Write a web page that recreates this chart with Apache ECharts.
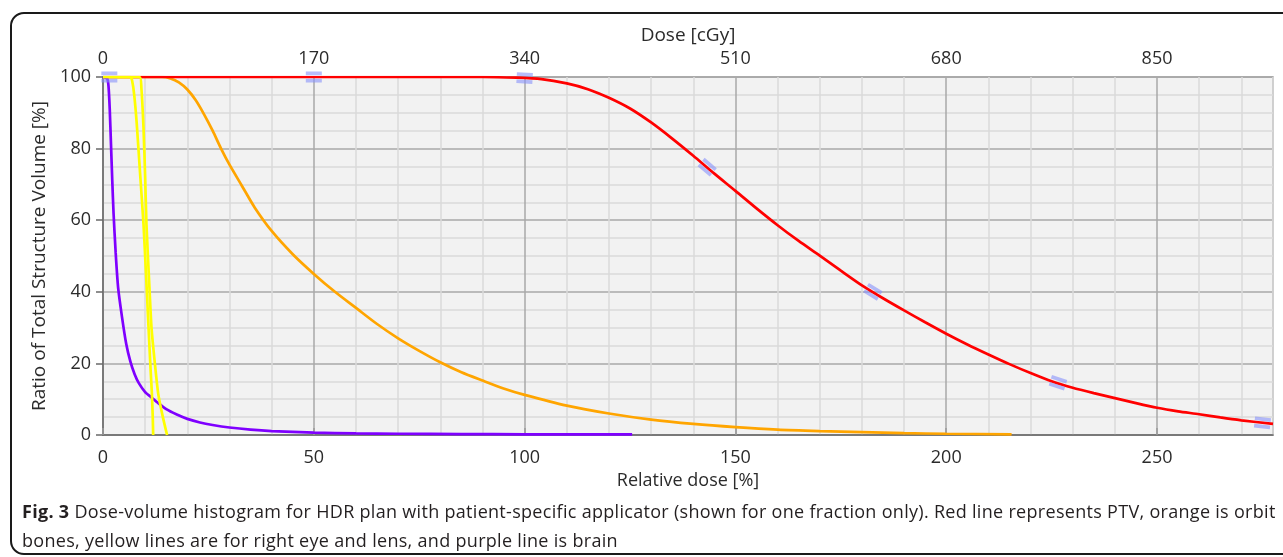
<!DOCTYPE html>
<html>
<head>
<meta charset="utf-8">
<title>DVH</title>
<script src="https://cdn.jsdelivr.net/npm/echarts@6/dist/echarts.min.js"></script>
<style>
html, body { margin: 0; padding: 0; background: #fff; }
#frame {
  position: absolute; left: 10px; top: 12px; width: 1300px; height: 543px;
  border: 2px solid #1a1a1a; border-radius: 14px; box-sizing: border-box;
}
#chart { position: absolute; left: 0; top: 0; width: 1283px; height: 557px; }
#caption {
  position: absolute; left: 22px; top: 497px;
  font-family: 'Open Sans', sans-serif; font-size: 18px; letter-spacing: 0.3px; line-height: 29px;
  color: #231f20; white-space: nowrap;
}
</style>
</head>
<body>
<div id="frame"></div>
<div id="chart"></div>
<div id="caption"><b>Fig. 3</b> Dose-volume histogram for HDR plan with patient-specific applicator (shown for one fraction only). Red line represents PTV, orange is orbit<br>bones, yellow lines are for right eye and lens, and purple line is brain</div>

<script>
// relative dose [%] vs volume [%]
const ptv = [[0,100],[90,100],[98,99.8],[104,99.4],[110,98.2],[115,96.6],[120,94.2],[125,91.2],[130,87.3],[135,82.8],
  [140,78],[145,73],[150,68.2],[155,63.3],[160,58.6],[165,54.2],[170,50.1],[175,45.9],[180,41.8],[185,38.2],[190,34.8],
  [195,31.5],[200,28.3],[205,25.3],[210,22.5],[215,19.8],[220,17.3],[225,15],[230,13.2],[235,11.7],[240,10.3],[245,8.9],
  [250,7.6],[255,6.6],[260,5.8],[265,4.9],[270,4.1],[277.5,3.1]];
const orbit = [[0,100],[14,100],[16,99.6],[18,98.5],[20,96.5],[22,93.5],[24,89.5],[26,85],[28,80],[30,75.5],[33,69.5],
  [36,63.5],[40,57],[45,50.5],[50,45],[55,40],[60,35.5],[65,31],[70,27],[75,23.5],[80,20.3],[85,17.5],[90,15.2],[95,13],
  [100,11.2],[110,8.2],[120,6],[130,4.3],[140,3.1],[150,2.2],[160,1.5],[170,1.1],[180,0.8],[190,0.5],[200,0.35],[215.5,0.2]];
const brain = [[0,100],[1,99.5],[1.3,97.5],[1.6,91],[1.9,81],[2.2,71],[2.5,62],[3,51],[3.6,41],[4.5,33],[5.5,25.5],
  [6.5,20.5],[7.5,17],[8.5,14.5],[10,12],[11.5,10.5],[13,9],[15,7.2],[17.5,5.7],[20,4.5],[23,3.5],[26,2.8],[30,2.1],
  [35,1.5],[40,1.1],[50,0.65],[60,0.45],[70,0.35],[85,0.25],[100,0.2],[125.5,0.2]];
const eye = [[0,100],[6.5,100],[6.9,99],[7.4,95],[8,87],[8.8,73],[9.6,59],[10.2,45],[10.8,30],[11.3,18],[11.6,11.5],[11.8,5],[11.9,0]];
const lens = [[0,100],[8.7,100],[9.1,97],[9.6,86],[10,72],[10.3,59],[10.9,44],[11.5,30],[12.3,20],[13.1,11.5],[14.2,5],[15.2,0]];
// blue handle markers sitting on the PTV curve
const ptvMarks = [[1.5,100],[50,100],[100,99.7],[143.3,74.8],[182.6,40],[226.5,14.6],[275,3.4]];

const relTicks = [0, 50, 100, 150, 200, 250];
const doseMax = 943.5;   // 277.5 % of 340 cGy
const relMax = 277.5;

const font = "'Open Sans', sans-serif";
const textColor = '#2b2b2b';
const majorGrid = '#a9a9a9';
const minorGrid = '#dadada';

const chart = echarts.init(document.getElementById('chart'));

const lineSeries = (name, data, color, z, smooth) => ({
  name, type: 'line', data, xAxisIndex: 0, yAxisIndex: 0,
  showSymbol: false, smooth,
  lineStyle: { color, width: 2.7 }, itemStyle: { color }, z
});

const option = {
  animation: false,
  backgroundColor: 'transparent',
  textStyle: { fontFamily: font },
  grid: {
    left: 103, right: 10, top: 77, bottom: 122,
    show: true, backgroundColor: '#f2f2f2', borderColor: '#9c9c9c', borderWidth: 1.5
  },
  xAxis: [
    {
      type: 'value', position: 'bottom', min: 0, max: relMax, interval: 50,
      name: 'Relative dose [%]', nameLocation: 'middle', nameGap: 32,
      nameTextStyle: { fontSize: 18, color: textColor, fontFamily: font },
      axisLine: { show: true, onZero: false, lineStyle: { color: '#6a6a6a', width: 1.5 } },
      axisTick: { show: false },
      axisLabel: { margin: 14, fontSize: 18, color: textColor, fontFamily: font, showMaxLabel: false,
        formatter: v => relTicks.includes(v) ? String(v) : '' },
      splitLine: { show: false }
    },
    {
      type: 'value', position: 'top', min: 0, max: doseMax, interval: 170,
      name: 'Dose [cGy]', nameLocation: 'middle', nameGap: 29,
      nameTextStyle: { fontSize: 19, color: textColor, fontFamily: font },
      axisLine: { show: false },
      axisTick: { show: true, length: 7, lineStyle: { color: '#9a9a9a', width: 1.5 } },
      axisLabel: { margin: 9, fontSize: 18, color: textColor, fontFamily: font, showMaxLabel: false },
      splitLine: { show: false }
    },
    {
      // grid lines only: every 10 %, darker every 50 %
      type: 'value', position: 'bottom', min: 0, max: relMax, interval: 10,
      axisLine: { show: false }, axisTick: { show: false }, axisLabel: { show: false },
      splitLine: { show: true, lineStyle: { color: [majorGrid, minorGrid, minorGrid, minorGrid, minorGrid], width: 1.5 } }
    }
  ],
  yAxis: [
    {
      type: 'value', position: 'left', min: 0, max: 100, interval: 20,
      name: 'Ratio of Total Structure Volume [%]', nameLocation: 'middle', nameGap: 52,
      nameTextStyle: { fontSize: 19, color: textColor, fontFamily: font },
      axisLine: { show: true, onZero: false, lineStyle: { color: '#6a6a6a', width: 1.5 } },
      axisTick: { show: true, length: 7, lineStyle: { color: '#6a6a6a', width: 1.5 } },
      axisLabel: { margin: 12, fontSize: 18, color: textColor, fontFamily: font },
      splitLine: { show: false }
    },
    {
      type: 'value', position: 'left', min: 0, max: 100, interval: 5,
      axisLine: { show: false }, axisTick: { show: false }, axisLabel: { show: false },
      splitLine: { show: true, lineStyle: { color: [majorGrid, minorGrid, minorGrid, minorGrid], width: 1.5 } }
    }
  ],
  series: [
    lineSeries('Orbit bones', orbit, '#ffa500', 3, 0.25),
    lineSeries('PTV', ptv, '#ff0000', 4, 0.25),
    lineSeries('Brain', brain, '#7f00ff', 5, 0.2),
    lineSeries('Right eye', eye, '#ffff00', 6, 0.2),
    lineSeries('Lens', lens, '#ffff00', 6, 0.2),
    {
      name: 'handles', type: 'scatter', xAxisIndex: 0, yAxisIndex: 0, z: 8,
      symbol: 'path://M0,0H16V3.5H0Z M0,7H16V10.5H0Z', symbolSize: [16, 11],
      itemStyle: { color: 'rgba(135,145,250,0.75)' },
      data: ptvMarks
    }
  ]
};

chart.setOption(option);

// turn each handle along the local slope of the PTV curve
const interp = (pts, x) => {
  for (let i = 1; i < pts.length; i++) {
    if (x <= pts[i][0]) {
      const [x0, y0] = pts[i - 1], [x1, y1] = pts[i];
      return y0 + (y1 - y0) * (x - x0) / (x1 - x0);
    }
  }
  return pts[pts.length - 1][1];
};
const marks = ptvMarks.map(p => {
  const a = chart.convertToPixel({ seriesIndex: 1 }, [p[0] - 2, interp(ptv, p[0] - 2)]);
  const b = chart.convertToPixel({ seriesIndex: 1 }, [Math.min(p[0] + 2, relMax), interp(ptv, Math.min(p[0] + 2, relMax))]);
  const ang = -Math.atan2(b[1] - a[1], b[0] - a[0]) * 180 / Math.PI;
  return { value: p, symbolRotate: ang };
});
chart.setOption({ series: [{}, {}, {}, {}, {}, { data: marks }] });

window.addEventListener('resize', () => chart.resize());
</script>
</body>
</html>
